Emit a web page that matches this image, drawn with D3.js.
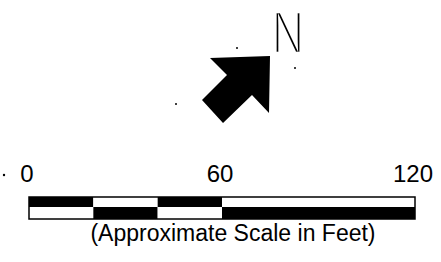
<!DOCTYPE html>
<html>
<head>
<meta charset="utf-8">
<script src="https://cdn.jsdelivr.net/npm/d3@7"></script>
<style>
  body { margin: 0; background: #fff; }
  svg { display: block; }
  text { font-family: "Liberation Sans", Arial, sans-serif; fill: #000; }
</style>
</head>
<body>
<svg id="map" width="441" height="262"></svg>
<script>
// scale bar breaks in feet, alternating fill
var breaks = [0, 20, 40, 60, 120];
var tickLabels = [0, 60, 120];
var caption = "(Approximate Scale in Feet)";
// north arrow outline, in arrow units (tip at 0,0)
var arrowShape = [[-60, 2], [0, 0], [-1, 57], [-18, 39], [-47, 67], [-68, 44], [-43, 19]];
var specks = [[176, 104], [237, 48], [295, 68]];

var svg = d3.select("#map");

var x = d3.scaleLinear().domain([0, 120]).range([29, 415]);

// labels
svg.append("g").selectAll("text")
  .data(tickLabels)
  .enter().append("text")
  .attr("x", function (d) { return x(d) - 2; })
  .attr("y", 182)
  .attr("text-anchor", "middle")
  .attr("font-size", 24)
  .text(function (d) { return d; });

svg.append("circle").attr("cx", 4).attr("cy", 175).attr("r", 1.2);

// bar: two rows, checkered
var segs = d3.pairs(breaks);
var bar = svg.append("g");
bar.selectAll("rect.top")
  .data(segs)
  .enter().append("rect")
  .attr("x", function (d) { return x(d[0]); })
  .attr("y", 197)
  .attr("width", function (d) { return x(d[1]) - x(d[0]); })
  .attr("height", 10)
  .attr("fill", function (d, i) { return i % 2 ? "#fff" : "#000"; });
bar.selectAll("rect.bot")
  .data(segs)
  .enter().append("rect")
  .attr("x", function (d) { return x(d[0]); })
  .attr("y", 207)
  .attr("width", function (d) { return x(d[1]) - x(d[0]); })
  .attr("height", 12)
  .attr("fill", function (d, i) { return i % 2 ? "#000" : "#fff"; });
bar.append("rect")
  .attr("x", x(0))
  .attr("y", 197)
  .attr("width", x(120) - x(0))
  .attr("height", 22)
  .attr("fill", "none")
  .attr("stroke", "#000")
  .attr("stroke-width", 1.5);

svg.append("text")
  .attr("x", 233)
  .attr("y", 241)
  .attr("text-anchor", "middle")
  .attr("font-size", 23)
  .text(caption);

// north arrow
svg.append("path")
  .attr("d", d3.line()(arrowShape) + "Z")
  .attr("transform", "translate(270,56)")
  .attr("fill", "#000");

// thin "N": white stroke over the fill trims the glyph
svg.append("text")
  .attr("transform", "translate(272,53) scale(0.74,1)")
  .attr("font-size", 60)
  .attr("stroke", "#fff")
  .attr("stroke-width", 2.6)
  .text("N");

svg.append("g").selectAll("circle")
  .data(specks)
  .enter().append("circle")
  .attr("cx", function (d) { return d[0]; })
  .attr("cy", function (d) { return d[1]; })
  .attr("r", 1);
</script>
</body>
</html>
